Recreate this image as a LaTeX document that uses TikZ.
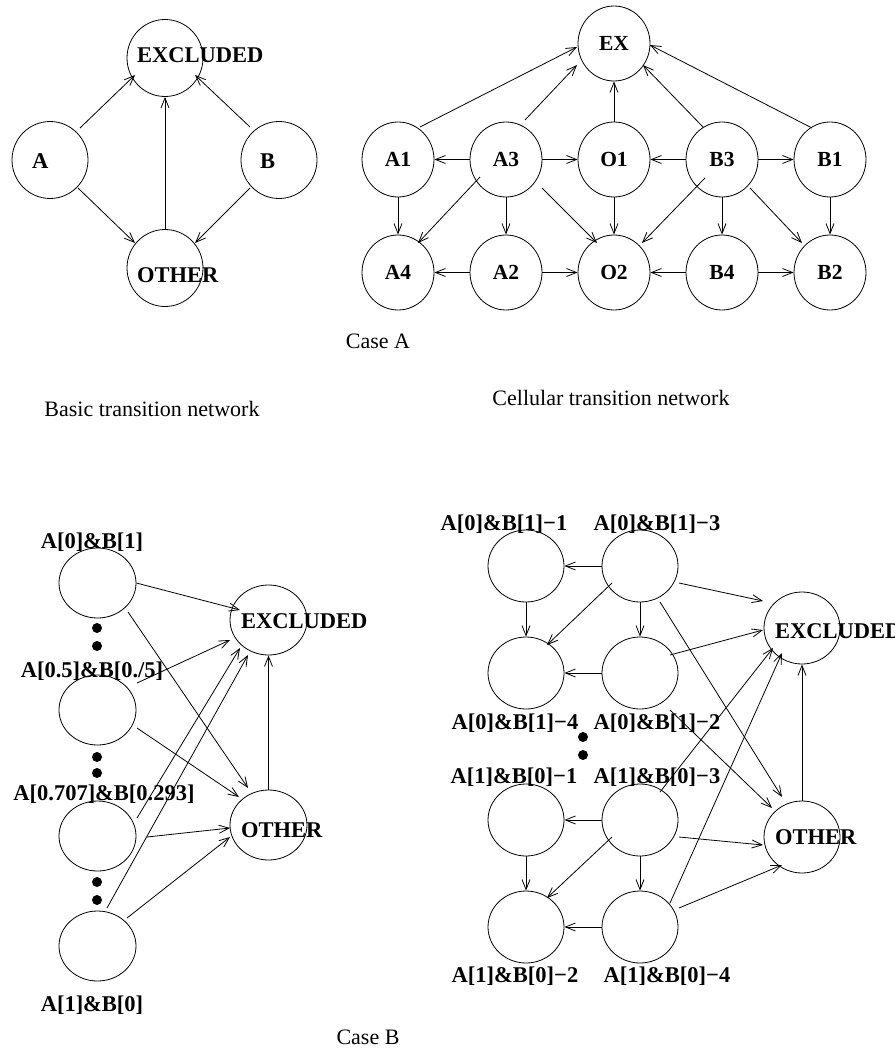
\documentclass[tikz,border=0pt]{standalone}
\usepackage{fontspec}
\setmainfont{Liberation Serif}
\usetikzlibrary{arrows.meta,calc,shapes.geometric}

\newcommand{\nodefnt}{\fontsize{22.5}{26}\selectfont\bfseries}
\newcommand{\smallnodefnt}{\fontsize{21.5}{25}\selectfont\bfseries}
\newcommand{\capfnt}{\fontsize{22}{26}\selectfont}

\tikzset{
  state/.style={draw, ellipse, inner sep=0pt, line width=0.8pt},
  stTL/.style={state, minimum width=76pt, minimum height=77pt},
  stTR/.style={state, minimum width=72pt, minimum height=75pt, font=\smallnodefnt},
  stBL/.style={state, minimum width=77pt, minimum height=70pt},
  stBR/.style={state, minimum width=76pt, minimum height=72pt},
  lab/.style={inner sep=0pt, font=\nodefnt},
  captext/.style={inner sep=0pt, font=\capfnt, anchor=base},
  arr/.style={line width=0.8pt, -{Straight Barb[length=10pt,width=8pt,line width=0.8pt]}},
  dot/.style={fill=black}
}

\begin{document}
\begin{tikzpicture}[x=1pt, y=-1pt]
\useasboundingbox (0,0) rectangle (894,1049);

% ---------- Basic transition network ----------
\node[stTL] (tex)  at (165,58)  {};
\node[stTL] (ta)   at (50,160)  {};
\node[stTL] (tb)   at (279,160) {};
\node[stTL] (toth) at (165,268) {};
\node[lab, anchor=base west] (texT)  at (137,63)  {EXCLUDED};
\node[lab, anchor=base west] (taT)   at (32,168)  {A};
\node[lab, anchor=base west] (tbT)   at (260,168) {B};
\node[lab, anchor=base west] (tothT) at (137,282) {OTHER};

\draw[arr] ($(ta)+(30,-32)$) -- ($(tex)+(-30,17)$);
\draw[arr] ($(tb)+(-29,-33)$) -- ($(tex)+(30,17)$);
\draw[arr] ($(ta)+(28,28)$) -- ($(toth)+(-30,-25)$);
\draw[arr] ($(tb)+(-29,28)$) -- ($(toth)+(30,-25)$);
\draw[arr] (toth.north) -- (tex.south);

% ---------- Cellular transition network ----------
\node[stTR] (ex) at (614,43.5) {EX};
\node[stTR] (a1) at (398,159.5) {A1};
\node[stTR] (a3) at (506,159.5) {A3};
\node[stTR] (o1) at (614,159.5) {O1};
\node[stTR] (b3) at (722,159.5) {B3};
\node[stTR] (b1) at (830,159.5) {B1};
\node[stTR] (a4) at (398,272.5) {A4};
\node[stTR] (a2) at (506,272.5) {A2};
\node[stTR] (o2) at (614,272.5) {O2};
\node[stTR] (b4) at (722,272.5) {B4};
\node[stTR] (b2) at (830,272.5) {B2};

\draw[arr] ($(a1)+(22,-32.5)$) -- ($(ex)+(-37,3.5)$);
\draw[arr] ($(a3)+(19,-39.5)$) -- ($(ex)+(-37,21.5)$);
\draw[arr] (o1.north) -- (ex.south);
\draw[arr] ($(b3)+(-19,-32.5)$) -- ($(ex)+(29,21.5)$);
\draw[arr] ($(b1)+(-18,-31.5)$) -- ($(ex)+(36,1.5)$);

\draw[arr] (a3.west) -- (a1.east);
\draw[arr] (a3.east) -- (o1.west);
\draw[arr] (b3.west) -- (o1.east);
\draw[arr] (b3.east) -- (b1.west);

\draw[arr] (a1.south) -- (a4.north);
\draw[arr] (a3.south) -- (a2.north);
\draw[arr] (o1.south) -- (o2.north);
\draw[arr] (b3.south) -- (b4.north);
\draw[arr] (b1.south) -- (b2.north);

\draw[arr] ($(a3)+(-26,17.5)$) -- ($(a4)+(20,-29.5)$);
\draw[arr] ($(a3)+(36,28.5)$) -- ($(o2)+(-17,-29.5)$);
\draw[arr] ($(b3)+(-17,18.5)$) -- ($(o2)+(28,-29.5)$);
\draw[arr] ($(b3)+(28,28.5)$) -- ($(b2)+(-28,-29.5)$);

\draw[arr] (a2.west) -- (a4.east);
\draw[arr] (a2.east) -- (o2.west);
\draw[arr] (b4.west) -- (o2.east);
\draw[arr] (b4.east) -- (b2.west);

% ---------- captions ----------
\node[captext] (caseA) at (378,348)  {Case A};
\node[captext] (basic) at (152,416)  {Basic transition network};
\node[captext] (cell)  at (611,405)  {Cellular transition network};
\node[captext] (caseB) at (368,1044) {Case B};

% ---------- Case B, basic ----------
\node[stBL] (l1)   at (97.5,583) {};
\node[stBL] (l2)   at (97.5,710) {};
\node[stBL] (l3)   at (97.5,836) {};
\node[stBL] (l4)   at (97.5,946) {};
\node[stBL] (lex)  at (268.5,620) {};
\node[stBL] (loth) at (268.5,825) {};

\node[lab, anchor=base] (l1T) at (92,548)   {A[0]\&B[1]};
\node[lab, anchor=base] (l2T) at (92,677)   {A[0.5]\&B[0./5]};
\node[lab, anchor=base] (l3T) at (104,800)  {A[0.707]\&B[0.293]};
\node[lab, anchor=base] (l4T) at (92,1011)  {A[1]\&B[0]};
\node[lab, anchor=base west] (lexT)  at (241,628) {EXCLUDED};
\node[lab, anchor=base west] (lothT) at (241,837) {OTHER};

\foreach \yy in {628,646,757,773,882,900}
  \fill[dot] (97,\yy) circle (5);

\draw[arr] (l1.east) -- ($(lex)+(-28.5,-10)$);
\draw[arr] ($(l1)+(30.5,29)$) -- ($(loth)+(-20.5,-37)$);
\draw[arr] ($(l2)+(39.5,-27)$) -- ($(lex)+(-38.5,20)$);
\draw[arr] ($(l2)+(39.5,18)$) -- ($(loth)+(-29.5,-28)$);
\draw[arr] ($(l3)+(39.5,-18)$) -- ($(lex)+(-28.5,28)$);
\draw[arr] ($(l3)+(49.5,1)$) -- ($(loth)+(-38.5,3)$);
\draw[arr] ($(l4)+(9.5,-38)$) -- ($(lex)+(-20.5,35)$);
\draw[arr] ($(l4)+(29.5,-28)$) -- ($(loth)+(-38.5,12)$);
\draw[arr] (loth.north) -- (lex.south);

% ---------- Case B, cellular ----------
\node[stBR] (r1)   at (526,566) {};
\node[stBR] (r3)   at (640,566) {};
\node[stBR] (r4)   at (526,673) {};
\node[stBR] (r2)   at (640,673) {};
\node[stBR] (s1)   at (526,820) {};
\node[stBR] (s3)   at (640,820) {};
\node[stBR] (s2)   at (526,927) {};
\node[stBR] (s4)   at (640,927) {};
\node[stBR] (rex)  at (802,628) {};
\node[stBR] (roth) at (802,837) {};

\node[lab, anchor=base] (r1T) at (504,530) {A[0]\&B[1]−1};
\node[lab, anchor=base] (r3T) at (657,530) {A[0]\&B[1]−3};
\node[lab, anchor=base] (r4T) at (515,729) {A[0]\&B[1]−4};
\node[lab, anchor=base] (r2T) at (657,729) {A[0]\&B[1]−2};
\node[lab, anchor=base] (s1T) at (514,783) {A[1]\&B[0]−1};
\node[lab, anchor=base] (s3T) at (657,783) {A[1]\&B[0]−3};
\node[lab, anchor=base] (s2T) at (515,982) {A[1]\&B[0]−2};
\node[lab, anchor=base] (s4T) at (667,982) {A[1]\&B[0]−4};
\node[lab, anchor=base west] (rexT)  at (775,638) {EXCLUDED};
\node[lab, anchor=base west] (rothT) at (775,844) {OTHER};

\fill[dot] (583,737) circle (5);
\fill[dot] (583,755) circle (5);

\draw[arr] (r3.west) -- (r1.east);
\draw[arr] (r1.south) -- (r4.north);
\draw[arr] ($(r3)+(-28,17)$) -- ($(r4)+(21,-28)$);
\draw[arr] (r3.south) -- (r2.north);
\draw[arr] ($(r3)+(39,17)$) -- ($(rex)+(-39,-27)$);
\draw[arr] ($(r3)+(20,36)$) -- ($(roth)+(-20,-40)$);
\draw[arr] (r2.west) -- (r4.east);
\draw[arr] ($(r2)+(30,-18)$) -- ($(rex)+(-39,2)$);
\draw[arr] ($(r2)+(30,37)$) -- ($(roth)+(-30,-29)$);

\draw[arr] ($(s3)+(20,-28)$) -- ($(rex)+(-29,20)$);
\draw[arr] ($(s4)+(30,-24)$) -- ($(rex)+(-20,25)$);
\draw[arr] (s3.west) -- (s1.east);
\draw[arr] (s1.south) -- (s2.north);
\draw[arr] ($(s3)+(-28,17)$) -- ($(s2)+(21,-29)$);
\draw[arr] (s3.south) -- (s4.north);
\draw[arr] ($(s3)+(39,17)$) -- ($(roth)+(-39,8)$);
\draw[arr] (s4.west) -- (s2.east);
\draw[arr] ($(s4)+(39,-19)$) -- ($(roth)+(-20,28)$);
\draw[arr] (roth.north) -- (rex.south);

\end{tikzpicture}
\end{document}
